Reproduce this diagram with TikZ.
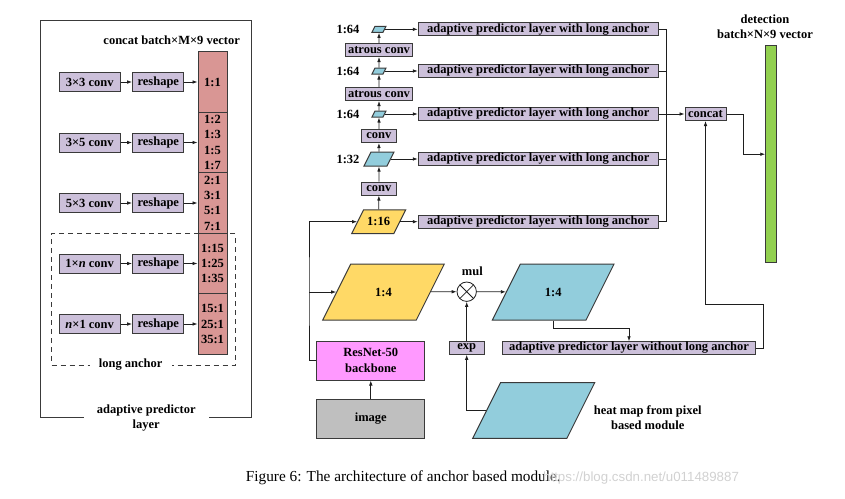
\documentclass[tikz,border=0pt]{standalone}
\usepackage{fontspec}
\setmainfont{Liberation Serif}
\newfontfamily\wmfont{Liberation Sans}
\usetikzlibrary{arrows.meta,positioning}
\definecolor{lav}{HTML}{CCC0DA}
\definecolor{segc}{HTML}{D99694}
\definecolor{detc}{HTML}{92D050}
\definecolor{yelc}{HTML}{FFD966}
\definecolor{bluc}{HTML}{92CDDC}
\definecolor{resc}{HTML}{FF99FF}
\definecolor{imgc}{HTML}{BFBFBF}
\definecolor{edgec}{HTML}{3A3A3A}
\definecolor{linec}{HTML}{1E1E1E}
\begin{document}
\begin{tikzpicture}[x=1pt,y=-1pt,
	box/.style={draw=edgec,fill=lav,line width=1pt,inner sep=0pt,minimum height=13pt,
			font=\fontsize{12.5}{13}\selectfont\bfseries},
	seg/.style={draw=edgec,fill=segc,line width=1pt,inner sep=0pt,minimum width=29pt,
			minimum height=60.5pt,align=center,font=\fontsize{12.5}{15.3}\selectfont\bfseries},
	fmap/.style={draw=edgec,line width=1pt,xslant=0.5,transform shape,inner sep=0pt},
	lbl/.style={inner sep=0pt,align=center,font=\fontsize{12.5}{14.7}\selectfont\bfseries},
	arr/.style={-{Latex[length=5pt,width=3.6pt]},line width=0.8pt,draw=linec},
	link/.style={line width=0.8pt,draw=linec}]
	\useasboundingbox (0,0) rectangle (845,498);
	% left panel: adaptive predictor layer
	\node[draw=edgec,line width=1pt,minimum width=211pt,minimum height=396.3pt] (aplfr) at (146.2,218.85) {};
	\node[lbl,fill=white,minimum width=125pt,minimum height=30pt] (apllbl) at (146.2,418.3) {adaptive predictor\\layer};
	\node[draw=edgec,line width=1pt,dash pattern=on 5pt off 4pt,minimum width=183.6pt,minimum height=131.3pt] (lafr) at (143.5,299.35) {};
	\node[lbl,fill=white,minimum width=82pt] (lalbl) at (130.7,365) {long anchor};
	\node[lbl] (cclbl) at (171.7,40) {concat batch×M×9 vector};
	\foreach \i/\cv/\yy in {1/3×3 conv/82,2/3×5 conv/142.5,3/5×3 conv/203,
			4/{1×\textit{n} conv}/263.5,5/{\textit{n}×1 conv}/324}{
		\node[box,minimum width=60.7pt,minimum height=19pt] (kconv\i) at (89.7,\yy) {\cv};
		\node[box,minimum width=51.3pt,minimum height=19pt] (rshp\i) at (158.3,\yy) {reshape};
	}
	\foreach \i/\txt/\yy in {1/{1:1}/82,2/{1:2\\1:3\\1:5\\1:7}/142.5,3/{2:1\\3:1\\5:1\\7:1}/203,
			4/{1:15\\1:25\\1:35}/263.5,5/{15:1\\25:1\\35:1}/324}
		\node[seg] (seg\i) at (212.5,\yy) {\txt};
	\foreach \i in {1,...,5}{
		\draw[arr] (kconv\i) -- (rshp\i);
		\draw[arr] (rshp\i) -- (seg\i);
	}
	% feature pyramid
	\node[fmap,fill=yelc,minimum width=42.2pt,minimum height=23.7pt] (f16) at (378.7,221.7) {};
	\node[lbl] (f16t) at (f16) {1:16};
	\node[box,minimum width=35.7pt] (conv1) at (378.9,188.5) {conv};
	\node[fmap,fill=bluc,minimum width=23pt,minimum height=14pt] (f32) at (379,159) {};
	\node[box,minimum width=35.7pt] (conv2) at (378.9,136) {conv};
	\node[fmap,fill=bluc,minimum width=11pt,minimum height=6pt] (f64a) at (379,114) {};
	\node[box,minimum width=66.6pt] (aconv1) at (379,94) {atrous conv};
	\node[fmap,fill=bluc,minimum width=11pt,minimum height=6pt] (f64b) at (379,71) {};
	\node[box,minimum width=66.6pt] (aconv2) at (379,50) {atrous conv};
	\node[fmap,fill=bluc,minimum width=11pt,minimum height=6pt] (f64c) at (379,29.3) {};
	\node[lbl] (t32) at (348,159) {1:32};
	\node[lbl] (t64a) at (348,114) {1:64};
	\node[lbl] (t64b) at (348,71) {1:64};
	\node[lbl] (t64c) at (348,29.3) {1:64};
	\draw[arr] (f16) -- (conv1);
	\draw[arr] (conv1) -- (f32);
	\draw[arr] (f32) -- (conv2);
	\draw[arr] (conv2) -- (f64a);
	\draw[arr] (f64a) -- (aconv1);
	\draw[arr] (aconv1) -- (f64b);
	\draw[arr] (f64b) -- (aconv2);
	\draw[arr] (aconv2) -- (f64c);
	\foreach \n/\src/\yy in {1/f64c/29.3,2/f64b/71,3/f64a/114,4/f32/159,5/f16/221.7}{
		\node[box,minimum width=240pt] (lap\n) at (538.3,\yy) {adaptive predictor layer with long anchor};
		\draw[arr] (\src) -- (lap\n);
	}
	% concat and detection
	\node[box,minimum width=41pt] (concat) at (705.5,114) {concat};
	\node[draw=edgec,fill=detc,line width=1pt,minimum width=10.3pt,minimum height=217pt,inner sep=0pt] (det) at (770.9,154.2) {};
	\node[lbl] (detlbl) at (765,26.4) {detection\\batch×N×9 vector};
	\coordinate (bus) at (666,114);
	\draw[link] (lap1.east) -| (bus);
	\draw[link] (lap5.east) -| (bus);
	\draw[link] (lap2.east) -- (lap2.east -| bus);
	\draw[link] (lap4.east) -- (lap4.east -| bus);
	\draw[arr] (lap3.east) -- (concat.west);
	\coordinate (cj) at (743.3,114);
	\draw[arr] (concat.east) -| (cj |- det.west) -- (det.west);
	% backbone branch
	\node[draw=edgec,fill=resc,line width=1pt,minimum width=108.3pt,minimum height=39pt,inner sep=0pt,
		align=center,font=\fontsize{12.5}{15.6}\selectfont\bfseries] (resnet) at (370.8,360.5) {ResNet-50\\backbone};
	\node[draw=edgec,fill=imgc,line width=1pt,minimum width=108.3pt,minimum height=39pt,inner sep=0pt,
		font=\fontsize{12.5}{13}\selectfont\bfseries] (image) at (370.8,418.8) {image};
	\draw[arr] (image) -- (resnet);
	\coordinate (spine) at (309,292);
	\draw[arr] (resnet.west) -| (spine) |- (f16);
	\node[fmap,fill=yelc,minimum width=93.6pt,minimum height=56pt] (f4) at (383.5,292) {};
	\node[lbl] (f4t) at (f4) {1:4};
	\draw[arr] (spine) -- (f4);
	\node[draw=linec,fill=white,line width=0.8pt,circle,minimum size=19.4pt,inner sep=0pt,
		path picture={\draw[linec,line width=0.8pt] (path picture bounding box.north west) -- (path picture bounding box.south east)
			(path picture bounding box.north east) -- (path picture bounding box.south west);}] (mul) at (466.7,291.7) {};
	\node[lbl] (mullbl) at (472.3,271) {mul};
	\node[fmap,fill=bluc,minimum width=93.7pt,minimum height=56pt] (b4) at (553.2,292) {};
	\node[lbl] (b4t) at (b4) {1:4};
	\draw[arr] (f4) -- (mul);
	\draw[arr] (mul) -- (b4);
	\node[box,minimum width=35.3pt,minimum height=12.5pt] (exp) at (466.7,348) {exp};
	\draw[arr] (exp) -- (mul);
	\node[fmap,fill=bluc,minimum width=94.2pt,minimum height=55.6pt] (heat) at (533.7,410.5) {};
	\node[lbl] (heatlbl) at (647.7,418) {heat map from pixel\\based module};
	\draw[arr] (heat.west) -| (exp);
	\node[box,minimum width=253.4pt,minimum height=12.5pt] (wola) at (629,348) {adaptive predictor layer without long anchor};
	\coordinate (kb) at (553.2,328.3);
	\draw[arr] (kb |- b4.south) -- (kb) -| (wola.north);
	\coordinate (ret) at (763.3,304);
	\draw[arr] (wola.east) -| (ret) -| (concat.south);
	% caption
	\node[inner sep=0pt,font=\fontsize{15.3}{17}\selectfont] (caption) at (403.3,478) {Figure 6: The architecture of anchor based module.};
	\node[inner sep=0pt,anchor=west,text=black!18,font=\wmfont\fontsize{13.3}{15}\selectfont] (wmark) at (543,478.5) {https://blog.csdn.net/u011489887};
\end{tikzpicture}
\end{document}
